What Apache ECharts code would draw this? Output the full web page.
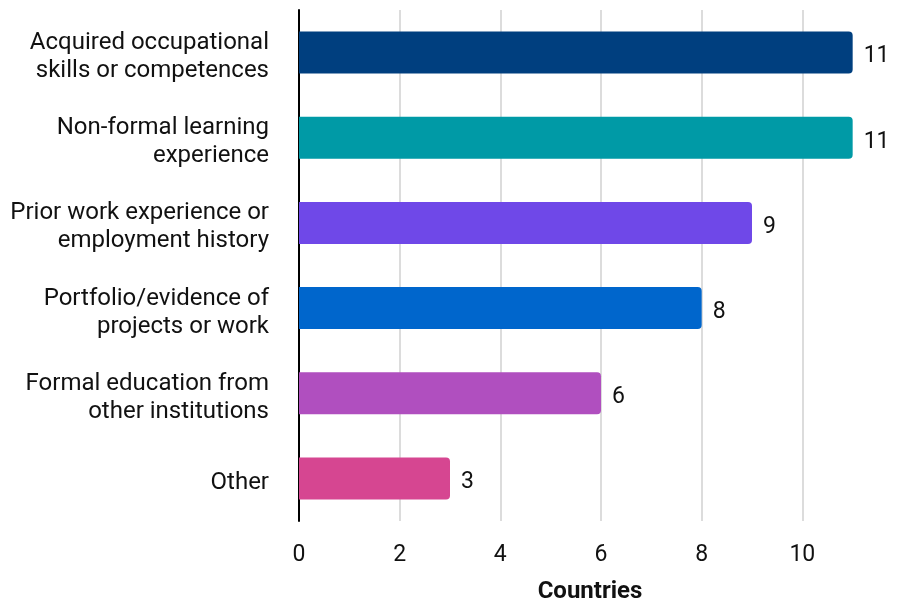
<!DOCTYPE html>
<html>
<head>
<meta charset="utf-8">
<script src="https://cdn.jsdelivr.net/npm/echarts@6/dist/echarts.min.js"></script>
<style>
  html, body { margin: 0; padding: 0; background: #fff; }
  #chart { width: 904px; height: 602px; }
</style>
</head>
<body>
<div id="chart"></div>
<script>
    'use strict';

    var categories = [
        'Acquired occupational\nskills or competences',
        'Non-formal learning\nexperience',
        'Prior work experience or\nemployment history',
        'Portfolio/evidence of\nprojects or work',
        'Formal education from\nother institutions',
        'Other'
    ];
    var counts = [11, 11, 9, 8, 6, 3];
    var barColors = ['#003f7f', '#009aa6', '#6f48e8', '#0066cc', '#b04fbf', '#d64691'];
    var xTicks = [0, 2, 4, 6, 8, 10];

    var chart = echarts.init(document.getElementById('chart'));

    var option = {
        animation: false,
        textStyle: { fontFamily: 'Roboto' },
        grid: {
            left: 299,
            top: 10,
            right: 1,
            bottom: 81,
            containLabel: false,
            outerBoundsMode: 'none'
        },
        xAxis: {
            type: 'value',
            min: 0,
            max: 12,
            interval: 2,
            name: 'Countries',
            nameLocation: 'middle',
            nameGap: 59,
            nameTextStyle: { fontSize: 24, fontWeight: 'bold', color: '#111', padding: [0, 22, 0, 0] },
            axisLine: { show: false },
            axisTick: { show: false },
            splitLine: { showMaxLine: false, lineStyle: { color: '#dcdcdc', width: 2 } },
            axisLabel: {
                fontSize: 23,
                color: '#111',
                margin: 23,
                showMaxLabel: false,
                formatter: function (v) {
                    return xTicks.indexOf(v) >= 0 ? String(v) : '';
                }
            }
        },
        yAxis: {
            type: 'category',
            inverse: true,
            data: categories,
            axisLine: { show: true, lineStyle: { color: '#000', width: 2 } },
            axisTick: { show: false },
            axisLabel: {
                fontSize: 24,
                color: '#111',
                margin: 30,
                lineHeight: 28,
                align: 'right',
                // small empty first line nudges the text down a little
                formatter: function (v) {
                    return '{g|}\n' + v.split('\n').map(function (s) { return '{t|' + s + '}'; }).join('\n');
                },
                rich: {
                    g: { fontSize: 1, lineHeight: 9 },
                    t: { fontSize: 24, lineHeight: 28, color: '#111', fontFamily: 'Roboto' }
                }
            }
        },
        series: [{
            type: 'bar',
            barWidth: 42,
            data: counts.map(function (v, i) {
                return { value: v, itemStyle: { color: barColors[i] } };
            }),
            itemStyle: { borderRadius: [0, 4, 4, 0] },
            label: {
                show: true,
                position: 'right',
                distance: 11,
                offset: [0, 4],
                fontSize: 23,
                color: '#111'
            }
        }]
    };

    chart.setOption(option);
</script>
</body>
</html>
